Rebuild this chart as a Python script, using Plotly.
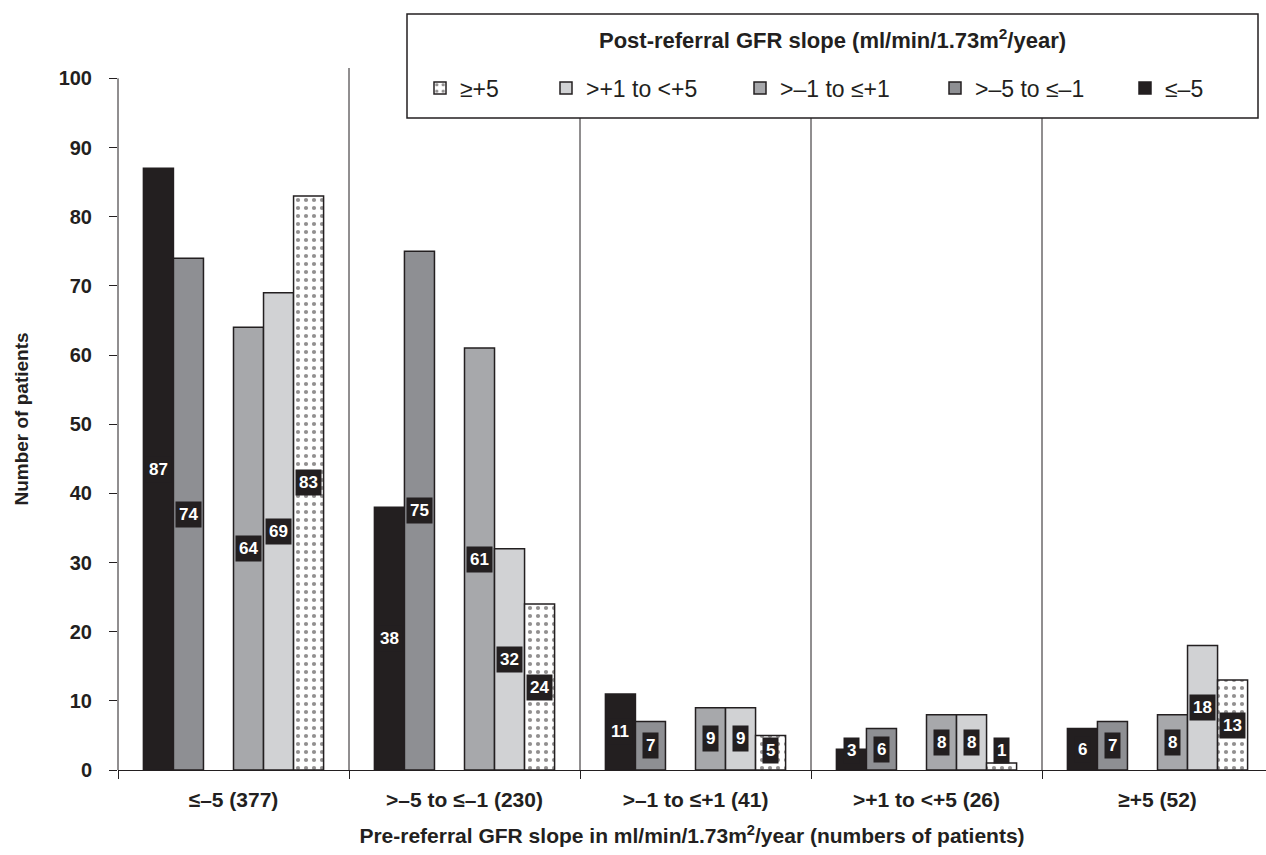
import plotly.graph_objects as go

# Pre-referral groups (x axis categories)
groups = ["≤–5 (377)", ">–5 to ≤–1 (230)", ">–1 to ≤+1 (41)", ">+1 to <+5 (26)", "≥+5 (52)"]

# Post-referral series names
series_names = ["≤–5", ">–5 to ≤–1", ">–1 to ≤+1", ">+1 to <+5", "≥+5"]

# Number of patients per post-referral series, per pre-referral group
s_le_m5 = [87, 38, 11, 3, 6]
s_m5_m1 = [74, 75, 7, 6, 7]
s_m1_p1 = [64, 61, 9, 8, 8]
s_p1_p5 = [69, 32, 9, 8, 18]
s_ge_p5 = [83, 24, 5, 1, 13]

series_values = [s_le_m5, s_m5_m1, s_m1_p1, s_p1_p5, s_ge_p5]

# styles
colors = ["#231f20", "#8e8f93", "#a7a8ab", "#d1d2d4", "#ffffff"]
slots = [0, 1, 3, 4, 5]          # slot 2 is left empty as in the original
slot_w = 0.13
dark = "#231f20"

FONT = "Liberation Sans, Arial, sans-serif"

xpos = list(range(len(groups)))

fig = go.Figure()

legend_ids = ["legend", "legend2", "legend3", "legend4", "legend5"]
for i, (name, vals) in enumerate(zip(series_names, series_values)):
    off = (slots[i] - 3) * slot_w
    marker = dict(color=colors[i], line=dict(color=dark, width=1.5))
    if i == 4:
        marker["pattern"] = dict(shape=".", fgcolor=dark, bgcolor="#ffffff",
                                 size=8, solidity=0.22)
    fig.add_trace(go.Bar(
        x=xpos, y=vals, name=name, width=slot_w, offset=off,
        marker=marker, legend=legend_ids[i], hoverinfo="skip",
    ))
    for g, v in zip(xpos, vals):
        fig.add_annotation(
            x=g + off + slot_w / 2, y=max(v / 2, 2.8), text=str(v),
            showarrow=False, bgcolor=dark, borderpad=3,
            font=dict(family=FONT, size=17, color="white", weight="bold"),
        )

# group dividers
for b in [0.5, 1.5, 2.5, 3.5]:
    fig.add_shape(type="line", xref="x", yref="y", x0=b, x1=b, y0=0, y1=101.5,
                  line=dict(color=dark, width=1))
# y axis line
fig.add_shape(type="line", xref="paper", yref="y", x0=0, x1=0, y0=0, y1=100,
              line=dict(color=dark, width=1))

# legend box + title
L, T, W, H = 118, 68, 1148, 702
def px_x(p):
    return (p - L) / W
def px_y(p):
    return (T + H - p) / H

fig.add_shape(type="rect", xref="paper", yref="paper",
              x0=px_x(407), x1=px_x(1258), y0=px_y(118), y1=px_y(14),
              line=dict(color=dark, width=1.5), fillcolor="white", layer="above")
fig.add_annotation(xref="paper", yref="paper", x=px_x(832), y=px_y(39),
                   xanchor="center", yanchor="middle",
                   text="Post-referral GFR slope (ml/min/1.73m<sup>2</sup>/year)",
                   showarrow=False,
                   font=dict(family=FONT, size=22, color=dark, weight="bold"))

legend_text_x = {"legend5": 452, "legend4": 578, "legend3": 772, "legend2": 967, "legend": 1157}
legend_layout = {}
for lid, tx in legend_text_x.items():
    legend_layout[lid] = dict(
        x=px_x(tx - 32), y=px_y(88), xanchor="left", yanchor="middle",
        bgcolor="rgba(0,0,0,0)", borderwidth=0,
        font=dict(family=FONT, size=23, color=dark),
    )

fig.update_layout(
    width=1266, height=855,
    margin=dict(l=L, r=0, t=T, b=855 - T - H, autoexpand=False),
    paper_bgcolor="white", plot_bgcolor="white",
    barmode="overlay",
    showlegend=True,
    **legend_layout,
    xaxis=dict(
        range=[-0.5, -0.5 + W / 231],
        automargin=False,
        tickmode="array", tickvals=xpos, ticktext=groups,
        ticks="", ticklabelstandoff=11,
        showline=True, linecolor=dark, linewidth=1,
        showgrid=False, zeroline=False,
        tickfont=dict(family=FONT, size=21, color=dark, weight="bold"),
        minor=dict(tickmode="array", tickvals=[-0.5, 0.5, 1.5, 2.5, 3.5],
                   ticks="outside", ticklen=8, tickcolor=dark, tickwidth=1),
        title=dict(text="Pre-referral GFR slope in ml/min/1.73m<sup>2</sup>/year (numbers of patients)",
                   font=dict(family=FONT, size=21, color=dark, weight="bold"),
                   standoff=18),
    ),
    yaxis=dict(
        range=[0, 101.5],
        automargin=False,
        tickmode="array", tickvals=list(range(0, 101, 10)),
        ticks="outside", ticklen=8, tickcolor=dark, tickwidth=1,
        ticklabelstandoff=13,
        showline=False, showgrid=False, zeroline=False,
        tickfont=dict(family=FONT, size=20, color=dark, weight="bold"),
        title=dict(text="Number of patients",
                   font=dict(family=FONT, size=19, color=dark, weight="bold"),
                   standoff=24),
    ),
)

fig.write_html("out.html", config={"displayModeBar": False},
               post_script="document.body.style.margin='0';")
